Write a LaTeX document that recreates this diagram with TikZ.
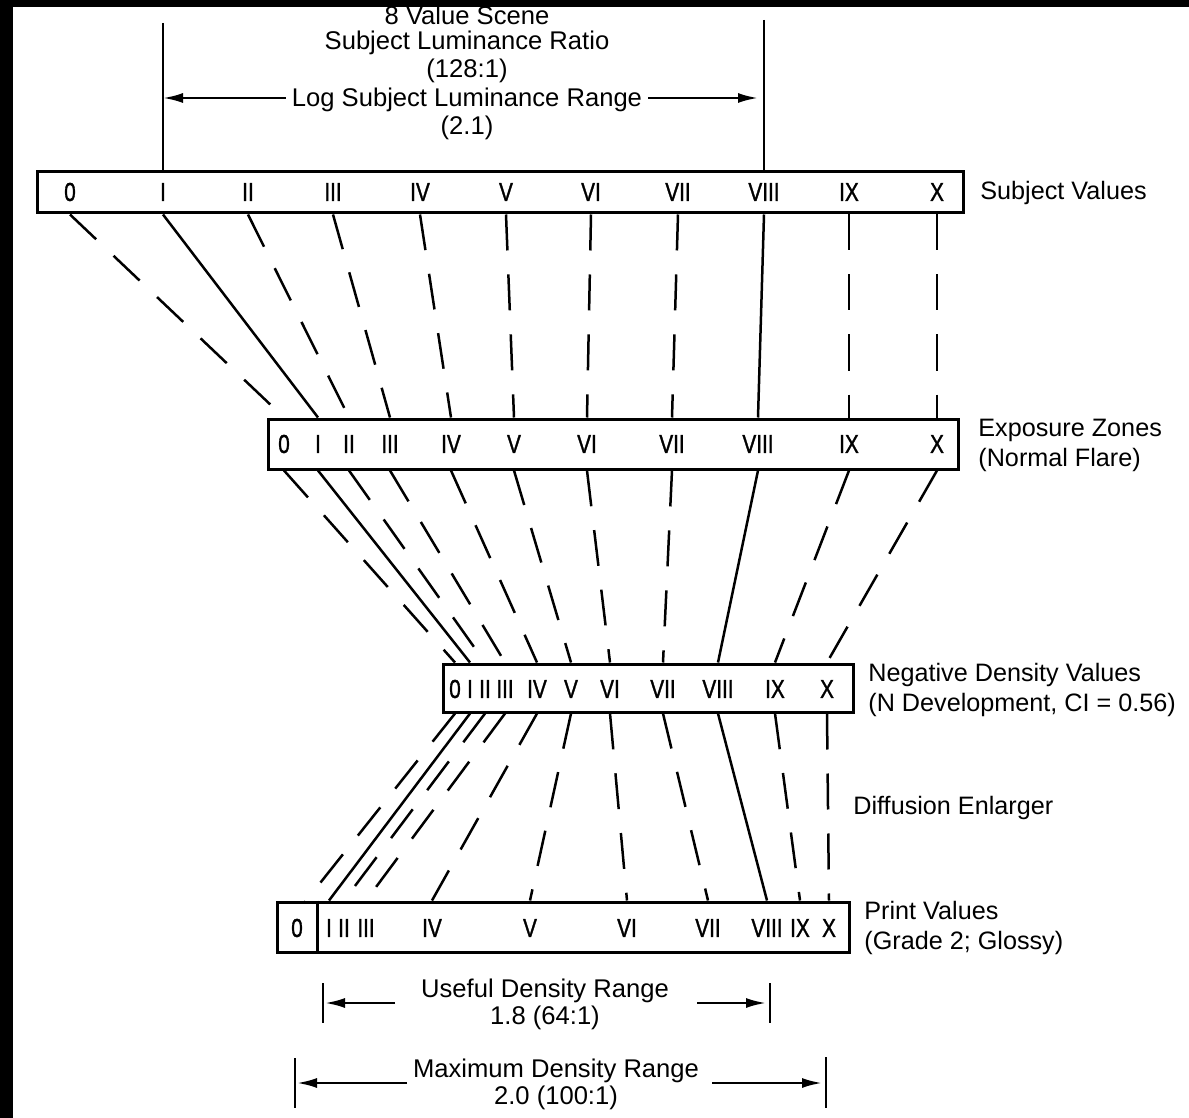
\documentclass[tikz,border=0pt]{standalone}
\usepackage{fontspec}
\setmainfont{Liberation Sans}
\newfontfamily\numfont[FakeStretch=0.8,FakeBold=1.2]{Liberation Sans}
\usetikzlibrary{arrows.meta}
\begin{document}
\begin{tikzpicture}[x=0.5pt,y=-0.5pt,
  box/.style={draw,line width=1.5pt,inner sep=0pt,rectangle},
  lab/.style={inner sep=0pt,font=\numfont\fontsize{13}{14}\selectfont},
  side/.style={inner sep=0pt,anchor=west,align=left,font=\fontsize{12.6}{15}\selectfont},
  ctext/.style={inner sep=0pt,font=\fontsize{12.8}{14}\selectfont},
  conn/.style={line width=1.25pt},
  dconn/.style={line width=1.25pt,dash pattern=on 18pt off 12pt},
  dim/.style={line width=1.2pt,-{Latex[length=10pt,width=5pt]}},
  tick/.style={line width=1.4pt}
]
\fill[black] (0,0) rectangle (1189,1118);
\fill[white] (13,7) rectangle (1189,1118);
\useasboundingbox (0,0) rectangle (1189,1118);

% boxes
\node[box,minimum width=463pt,minimum height=20.5pt] (sv) at (500,192.5) {};
\node[box,minimum width=345pt,minimum height=25pt] (ez) at (613,444) {};
\node[box,minimum width=205pt,minimum height=24pt] (nd) at (648,688) {};
\node[box,minimum width=286pt,minimum height=25pt] (pv) at (563,927) {};
\coordinate (pdiv) at (317,927);
\draw[line width=1.5pt] (pdiv |- pv.north) -- (pdiv |- pv.south);

% labels in boxes
\foreach \n/\t/\x in {0/0/70,1/I/163,2/II/248,3/III/333,4/IV/420,5/V/506,6/VI/591,7/VII/678,8/VIII/764,9/IX/849,10/X/937}
  \node[lab] (s\n) at (\x,192) {\t};
\foreach \n/\t/\x in {0/0/284,1/I/318,2/II/349,3/III/390,4/IV/451,5/V/514,6/VI/587,7/VII/672,8/VIII/758,9/IX/849,10/X/937}
  \node[lab] (e\n) at (\x,444) {\t};
\foreach \n/\t/\x in {0/0/455,1/I/470,2/II/485,3/III/505,4/IV/537,5/V/571,6/VI/610,7/VII/663,8/VIII/718,9/IX/775,10/X/827}
  \node[lab] (n\n) at (\x,689) {\t};
\foreach \n/\t/\x in {0/0/297,1/I/329,2/II/344,3/III/366,4/IV/432,5/V/530,6/VI/627,7/VII/708,8/VIII/767,9/IX/800,10/X/829}
  \node[lab] (p\n) at (\x,928) {\t};

% side labels
\node[side] (svl) at (980,193) {Subject Values};
\node[side] (ezl) at (978,445) {Exposure Zones\\(Normal Flare)};
\node[side] (ndl) at (868,690) {Negative Density Values\\(N Development, CI = 0.56)};
\node[side] (del) at (853,808) {Diffusion Enlarger};
\node[side] (pvl) at (864,928) {Print Values\\(Grade 2; Glossy)};

% connectors subject -> exposure
\foreach \n in {0,2,3,4,5,6,7,9,10}
  \draw[dconn] (s\n |- sv.south) -- (e\n |- ez.north);
\foreach \n in {1,8}
  \draw[conn] (s\n |- sv.south) -- (e\n |- ez.north);
% exposure -> negative
\foreach \n in {0,2,3,4,5,6,7,9,10}
  \draw[dconn] (e\n |- ez.south) -- (n\n |- nd.north);
\foreach \n in {1,8}
  \draw[conn] (e\n |- ez.south) -- (n\n |- nd.north);
% negative -> print
\foreach \n in {2,3,4,5,6,7,9,10}
  \draw[dconn] (n\n |- nd.south) -- (p\n |- pv.north);
\coordinate (p0e) at (305,902);
\draw[dconn] (n0 |- nd.south) -- (p0e);
\foreach \n in {1,8}
  \draw[conn] (n\n |- nd.south) -- (p\n |- pv.north);

% top
\coordinate (t1) at (163,23);
\coordinate (t8) at (764,20);
\draw[conn] (t1) -- (s1 |- sv.north);
\draw[conn] (t8) -- (s8 |- sv.north);
\node[ctext] (tt1) at (467,15) {8 Value Scene};
\node[ctext] (tt2) at (467,43) {Subject Luminance Ratio};
\node[ctext] (tt3) at (467,71) {(128:1)};
\node[ctext] (lr) at (467,100) {Log Subject Luminance Range};
\node[ctext] (tt5) at (467,128) {(2.1)};
\draw[dim] ([xshift=-3pt,yshift=1pt]lr.west) -- (t1 |- 0,98);
\draw[dim] ([xshift=3pt,yshift=1pt]lr.east) -- ([xshift=-3pt]t8 |- 0,98);

% useful density range
\node[ctext] (udr) at (545,991) {Useful Density Range};
\node[ctext] (udv) at (545,1018) {1.8 (64:1)};
\coordinate (uLt) at (323,983); \coordinate (uLb) at (323,1023);
\coordinate (uRt) at (770,983); \coordinate (uRb) at (770,1023);
\draw[tick] (uLt) -- (uLb);
\draw[tick] (uRt) -- (uRb);
\coordinate (ua1) at (395,1003);
\coordinate (ua2) at (697,1003);
\draw[dim] (ua1) -- ([xshift=1pt]uLt |- ua1);
\draw[dim] (ua2) -- ([xshift=-2pt]uRt |- ua2);

% maximum density range
\node[ctext] (mdr) at (556,1071) {Maximum Density Range};
\node[ctext] (mdv) at (556,1098) {2.0 (100:1)};
\coordinate (mLt) at (295,1058); \coordinate (mLb) at (295,1108);
\coordinate (mRt) at (826,1057); \coordinate (mRb) at (826,1108);
\draw[tick] (mLt) -- (mLb);
\draw[tick] (mRt) -- (mRb);
\coordinate (ma1) at (407,1083);
\coordinate (ma2) at (712,1083);
\draw[dim] (ma1) -- ([xshift=1pt]mLt |- ma1);
\draw[dim] (ma2) -- ([xshift=-2pt]mRt |- ma2);
\end{tikzpicture}
\end{document}
